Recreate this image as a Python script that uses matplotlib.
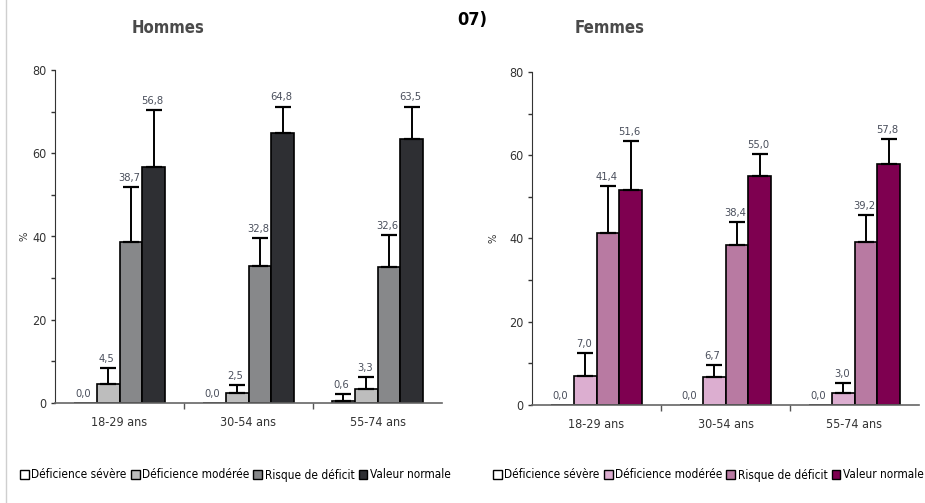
import matplotlib.pyplot as plt
import matplotlib.patches as mpatches
from matplotlib.lines import Line2D
import numpy as np

# Data
categories = ["18-29 ans", "30-54 ans", "55-74 ans"]
series = ["Déficience sévère", "Déficience modérée", "Risque de déficit", "Valeur normale"]

# Hommes : valeurs (%) et borne haute de l'intervalle de confiance
hommes_severe = [0.0, 0.0, 0.6]
hommes_moderee = [4.5, 2.5, 3.3]
hommes_risque = [38.7, 32.8, 32.6]
hommes_normale = [56.8, 64.8, 63.5]
hommes_ic_severe = [0.0, 0.0, 2.2]
hommes_ic_moderee = [8.3, 4.3, 6.2]
hommes_ic_risque = [51.8, 39.6, 40.4]
hommes_ic_normale = [70.3, 71.2, 71.2]

# Femmes
femmes_severe = [0.0, 0.0, 0.0]
femmes_moderee = [7.0, 6.7, 3.0]
femmes_risque = [41.4, 38.4, 39.2]
femmes_normale = [51.6, 55.0, 57.8]
femmes_ic_severe = [0.0, 0.0, 0.0]
femmes_ic_moderee = [12.4, 9.6, 5.2]
femmes_ic_risque = [52.6, 43.9, 45.6]
femmes_ic_normale = [63.4, 60.2, 63.8]

couleurs_hommes = ["#ffffff", "#bdbdbd", "#87888a", "#2e2f33"]
couleurs_femmes = ["#ffffff", "#dcaed0", "#b87aa2", "#7e0050"]

label_color = "#4a4f5c"
tick_color = "#333333"
plt.rcParams["font.family"] = ["DejaVu Sans"]
plt.rcParams["font.stretch"] = "condensed"

fig = plt.figure(figsize=(9.25, 5.03), dpi=100)
W, H = 925, 503


def axes_px(x0, x1, y_top, y_bot):
    return fig.add_axes([x0 / W, 1 - y_bot / H, (x1 - x0) / W, (y_bot - y_top) / H])


def draw_panel(ax, vals, ics, colors, pct_x):
    n = len(categories)
    x = np.arange(n)
    bw = 0.178
    for i, (v, ic, c) in enumerate(zip(vals, ics, colors)):
        pos = x + (i - 1.5) * bw
        v = np.array(v)
        ic = np.array(ic)
        ax.bar(pos, v, width=bw, color=c, edgecolor="black", linewidth=1.2, zorder=2)
        err = np.clip(ic - v, 0, None)
        mask = err > 0
        if mask.any():
            ax.errorbar(pos[mask], v[mask], yerr=[np.zeros(mask.sum()), err[mask]],
                        fmt="none", ecolor="black", elinewidth=1.4, capsize=6,
                        capthick=1.6, zorder=3)
        for p, val, top in zip(pos, v, np.maximum(ic, v)):
            ax.annotate(f"{val:.1f}".replace(".", ","), (p, top), xytext=(-1, 3),
                        textcoords="offset points", ha="center", va="bottom",
                        fontsize=8, color=label_color, zorder=4)
    ax.set_xlim(-0.5, n - 0.5)
    ax.set_ylim(0, 80)
    ax.set_xticks(x)
    ax.set_xticklabels(categories, fontsize=9, color=tick_color)
    ax.tick_params(axis="x", which="major", length=0, pad=9)
    ax.set_xticks(np.arange(0.5, n - 1, 1), minor=True)
    ax.tick_params(axis="x", which="minor", length=4, width=1, color="#555555", direction="out")
    ax.set_yticks(np.arange(0, 81, 10))
    ax.set_yticklabels([str(t) if t % 20 == 0 else "" for t in range(0, 81, 10)],
                       fontsize=9, color=tick_color)
    ax.tick_params(axis="y", length=3, width=1, pad=3, color="#333333")
    for s in ["top", "right"]:
        ax.spines[s].set_visible(False)
    ax.spines["left"].set_color("#333333")
    ax.spines["bottom"].set_color("#666666")
    ax.spines["bottom"].set_linewidth(1.2)
    ax.text(pct_x, 40, "%", transform=ax.get_yaxis_transform(), rotation=90,
            ha="center", va="center", fontsize=8, color=tick_color)
    ax.patch.set_visible(False)


ax1 = axes_px(55, 442, 70, 403)
draw_panel(ax1, [hommes_severe, hommes_moderee, hommes_risque, hommes_normale],
           [hommes_ic_severe, hommes_ic_moderee, hommes_ic_risque, hommes_ic_normale],
           couleurs_hommes, -0.078)

ax2 = axes_px(532, 919, 72, 405)
draw_panel(ax2, [femmes_severe, femmes_moderee, femmes_risque, femmes_normale],
           [femmes_ic_severe, femmes_ic_moderee, femmes_ic_risque, femmes_ic_normale],
           couleurs_femmes, -0.10)

# Legends
for colors, x0 in [(couleurs_hommes, 20 / W), (couleurs_femmes, 493 / W)]:
    handles = [mpatches.Patch(facecolor=c, edgecolor="black", linewidth=1.0) for c in colors]
    fig.legend(handles, series, loc="center left", bbox_to_anchor=(x0, 1 - 475 / H),
               ncol=4, frameon=False, fontsize=8.5, handlelength=0.75, handleheight=0.75,
               handletextpad=0.2, columnspacing=0.35, borderpad=0, borderaxespad=0)

# Titles
fig.text(168 / W, 1 - 28 / H, "Hommes", ha="center", va="center", fontsize=12,
         fontweight="bold", color="#4a4a4a")
fig.text(610 / W, 1 - 28 / H, "Femmes", ha="center", va="center", fontsize=12,
         fontweight="bold", color="#4a4a4a")
fig.text(472 / W, 1 - 20 / H, "07)", ha="center", va="center", fontsize=13,
         fontweight="bold", color="black")

# Bordure gauche
fig.add_artist(Line2D([6 / W, 6 / W], [0, 1], color="#cfcfcf", linewidth=1))

fig.savefig("out.png", dpi=100)
